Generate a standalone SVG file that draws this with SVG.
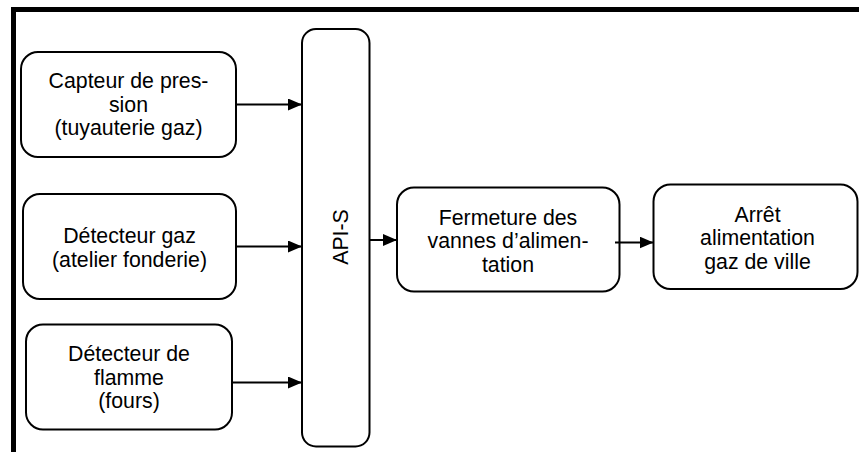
<svg xmlns="http://www.w3.org/2000/svg" width="859" height="452" viewBox="0 0 859 452">
  <style>
    .box { fill: #ffffff; stroke: #000000; stroke-width: 2; }
    .lbl { font-family: "Liberation Sans", Arial, sans-serif; font-size: 21.3px; fill: #000000; text-anchor: middle; }
    .wire { fill: none; stroke: #000000; stroke-width: 2; marker-end: url(#head); }
    .frame { fill: none; stroke: #000000; stroke-width: 5; }
  </style>
  <defs>
    <marker id="head" markerUnits="userSpaceOnUse" markerWidth="14" markerHeight="12" refX="14" refY="6" orient="auto">
      <path d="M0,0 L14,6 L0,12 Z" fill="#000000"/>
    </marker>
  </defs>

  <rect x="0" y="0" width="859" height="452" fill="#ffffff"/>

  <!-- outer frame: top and left borders only -->
  <path class="frame" d="M13.5,452 V9.5 H859"/>

  <g id="capteur-pression">
    <rect class="box" x="21" y="52" width="215" height="105" rx="17" ry="17"/>
    <text class="lbl" x="128.5" y="88">Capteur de pres-</text>
    <text class="lbl" x="128.5" y="111.5">sion</text>
    <text class="lbl" x="128.5" y="135">(tuyauterie gaz)</text>
  </g>

  <g id="detecteur-gaz">
    <rect class="box" x="23" y="194" width="213" height="105" rx="17" ry="17"/>
    <text class="lbl" x="129.5" y="243">Détecteur gaz</text>
    <text class="lbl" x="129.5" y="266.5">(atelier fonderie)</text>
  </g>

  <g id="detecteur-flamme">
    <rect class="box" x="26" y="324.5" width="206" height="105" rx="17" ry="17"/>
    <text class="lbl" x="129" y="360.5">Détecteur de</text>
    <text class="lbl" x="129" y="384.5">flamme</text>
    <text class="lbl" x="129" y="408">(fours)</text>
  </g>

  <g id="api-s">
    <rect class="box" x="302" y="29" width="67.5" height="417.5" rx="14" ry="14"/>
    <text class="lbl" transform="translate(348,237) rotate(-90)" x="0" y="0">API-S</text>
  </g>

  <g id="fermeture-vannes">
    <rect class="box" x="397" y="187.5" width="222.5" height="104" rx="17" ry="17"/>
    <text class="lbl" x="508" y="225">Fermeture des</text>
    <text class="lbl" x="508" y="248">vannes d’alimen-</text>
    <text class="lbl" x="508" y="272">tation</text>
  </g>

  <g id="arret-gaz">
    <rect class="box" x="653.5" y="184.5" width="204" height="104.5" rx="17" ry="17"/>
    <text class="lbl" x="757.5" y="221.5">Arrêt</text>
    <text class="lbl" x="757.5" y="245">alimentation</text>
    <text class="lbl" x="757.5" y="268.5">gaz de ville</text>
  </g>

  <g id="connectors">
    <path class="wire" d="M236,104.5 H302"/>
    <path class="wire" d="M236,246.5 H302"/>
    <path class="wire" d="M232,382.5 H302"/>
    <path class="wire" d="M369.5,240 H397"/>
    <path class="wire" d="M615,242.5 H653.5"/>
  </g>
</svg>
